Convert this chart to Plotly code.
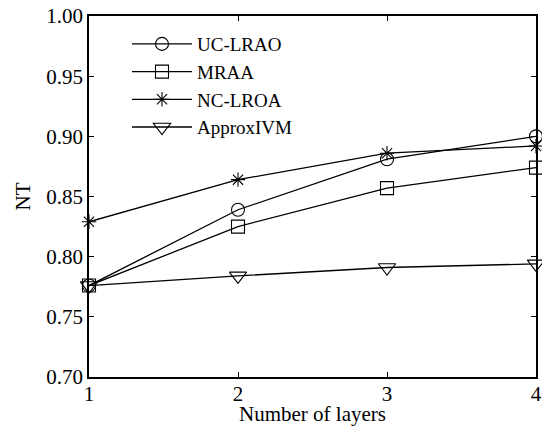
import plotly.graph_objects as go

layers = [1, 2, 3, 4]
uc_lrao = [0.776, 0.839, 0.881, 0.900]
mraa = [0.776, 0.825, 0.857, 0.874]
nc_lroa = [0.829, 0.864, 0.886, 0.892]
approx_ivm = [0.776, 0.784, 0.791, 0.794]

series = [
    ("UC-LRAO", uc_lrao, "circle-open", 13),
    ("MRAA", mraa, "square-open", 13),
    ("NC-LROA", nc_lroa, "asterisk-open", 12),
    ("ApproxIVM", approx_ivm, "triangle-down-open", 15),
]

FONT = "Liberation Serif, Times New Roman, serif"
FS = 21

fig = go.Figure()
for name, vals, sym, sz in series:
    fig.add_trace(go.Scatter(
        x=layers, y=vals, name=name, mode="lines+markers",
        line=dict(color="black", width=1.3),
        marker=dict(symbol=sym, size=sz, color="black", line=dict(color="black", width=1.1)),
        cliponaxis=False,
    ))

axis_common = dict(
    showline=True, linecolor="black", linewidth=1.5, mirror="ticks",
    ticks="inside", ticklen=5, tickcolor="black", tickwidth=1,
    showgrid=False, zeroline=False, automargin=False,
    tickfont=dict(family=FONT, size=FS, color="black"),
)

fig.update_layout(
    width=542, height=434,
    margin=dict(l=89, r=6, t=16, b=57),
    paper_bgcolor="white", plot_bgcolor="white",
    font=dict(family=FONT, color="black"),
    xaxis=dict(range=[1, 4], tickvals=[1, 2, 3, 4], ticklabelstandoff=-3, **axis_common),
    yaxis=dict(range=[0.70, 1.00], tickvals=[0.70, 0.75, 0.80, 0.85, 0.90, 0.95, 1.00],
               tickformat=".2f", **axis_common,
               title=dict(text="NT", font=dict(family=FONT, size=FS), standoff=10)),
    legend=dict(x=0.085, y=0.975, xanchor="left", yanchor="top",
                bgcolor="rgba(0,0,0,0)", borderwidth=0,
                font=dict(family=FONT, size=19, color="black"),
                tracegroupgap=0, itemwidth=60),
    showlegend=True,
    annotations=[dict(text="Number of layers", xref="paper", yref="paper",
                      x=0.5, y=0, yshift=-37, xanchor="center", yanchor="middle",
                      showarrow=False, font=dict(family=FONT, size=FS, color="black"))],
)

fig.write_html("out.html")
